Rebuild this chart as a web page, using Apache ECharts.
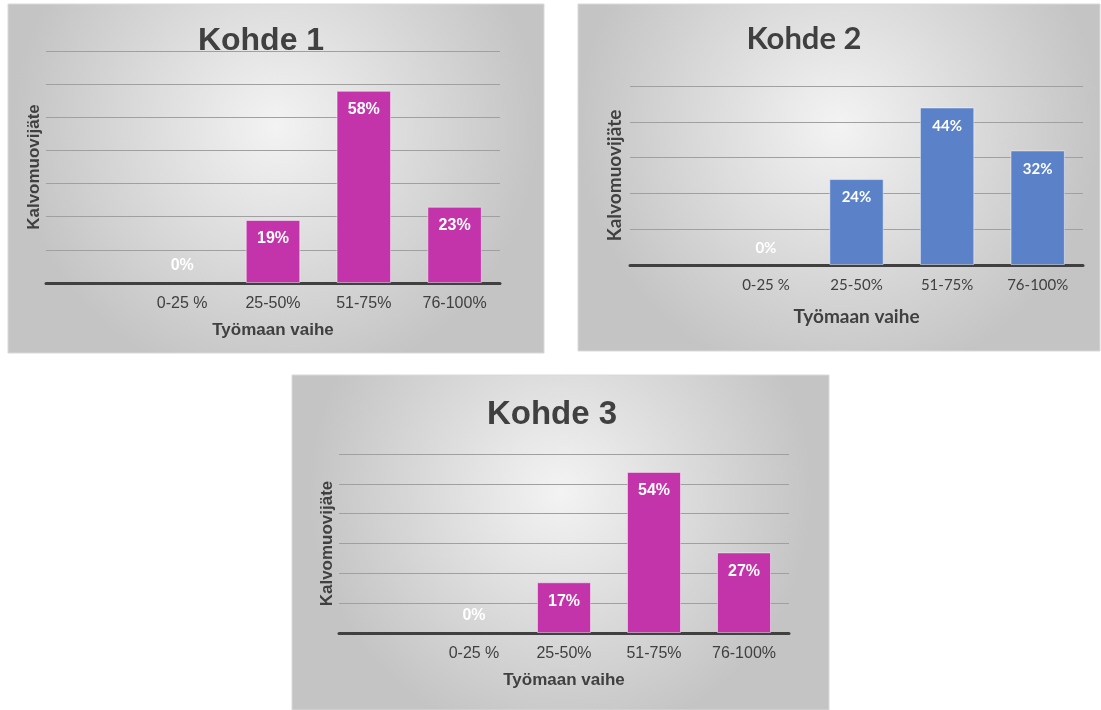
<!DOCTYPE html>
<html><head><meta charset="utf-8">
<script src="https://cdn.jsdelivr.net/npm/echarts@6/dist/echarts.min.js"></script>
<style>html,body{margin:0;padding:0;background:#fff}#c{width:1101px;height:710px}</style>
</head><body><div id="c"></div>
<script>
var categories = ['', '0-25 %', '25-50%', '51-75%', '76-100%'];
var titles = ['Kohde 1', 'Kohde 2', 'Kohde 3'];
var values1 = [null, 0, 19, 58, 23];
var values2 = [null, 0, 24, 44, 32];
var values3 = [null, 0, 17, 54, 27];
var yMax = [70, 50, 60];
var xName = 'Työmaan vaihe';
var yName = 'Kalvomuovijäte';

var chart = echarts.init(document.getElementById('c'));
var panels = [
  {x:8, y:4, w:536, h:349, grid:{left:46, top:51, width:454, height:232}, font:'Liberation Sans', color:'#c334ab', tx:261, ty:41, tsize:32, nsize:17, ngap:3, lsize:16, tick:16},
  {x:578, y:4, w:522, h:347, grid:{left:630, top:86, width:453, height:179}, font:'Lato', color:'#5b82c9', tx:804, ty:39, tsize:31, nsize:19, ngap:6, lsize:15, tick:15},
  {x:292, y:375, w:537, h:335, grid:{left:339, top:454, width:450, height:179}, font:'Liberation Sans', color:'#c334ab', tx:552, ty:415, tsize:33, nsize:17, ngap:3, lsize:16, tick:16}
];
var allValues = [values1, values2, values3];

var graphic = [], grids = [], xAxes = [], yAxes = [], series = [], title = [];
panels.forEach(function(p, i){
  graphic.push({type:'rect', z:-10, shape:{x:p.x, y:p.y, width:p.w, height:p.h},
    style:{fill:{type:'radial', x:0.5, y:0.35, r:0.75, colorStops:[{offset:0,color:'#f3f3f3'},{offset:1,color:'#c4c4c4'}]}, stroke:'#d9d9d9', lineWidth:1}});
  title.push({text:titles[i], left:p.tx, top:p.ty, padding:0, textAlign:'center', textVerticalAlign:'middle',
    textStyle:{fontFamily:p.font, fontWeight:'bold', fontSize:p.tsize, color:'#404040'}});
  grids.push(p.grid);
  xAxes.push({type:'category', gridIndex:i, data:categories,
    axisLine:{lineStyle:{color:'#404040', width:3}}, axisTick:{show:false},
    axisLabel:{fontFamily:p.font, fontSize:p.tick, color:'#404040', margin:13},
    name:xName, nameLocation:'middle', nameGap:i===1?42:39,
    nameTextStyle:{fontFamily:p.font, fontWeight:'bold', fontSize:i===1?19:17, color:'#404040'}});
  yAxes.push({type:'value', gridIndex:i, min:0, max:yMax[i], interval:10,
    axisLabel:{show:false}, axisLine:{show:false}, axisTick:{show:false},
    splitLine:{lineStyle:{color:'#a0a0a0', width:1}},
    name:yName, nameLocation:'middle', nameGap:p.ngap,
    nameTextStyle:{fontFamily:p.font, fontWeight:'bold', fontSize:p.nsize, color:'#404040'}});
  series.push({type:'bar', xAxisIndex:i, yAxisIndex:i, barCategoryGap:'40%',
    itemStyle:{color:p.color, borderColor:'rgba(255,255,255,0.45)', borderWidth:1},
    label:{show:true, position:'insideTop', distance:11, formatter:'{c}%', color:'#fff',
      fontFamily:p.font, fontWeight:'bold', fontSize:p.lsize},
    data:allValues[i].map(function(v){
      return v === 0 ? {value:v, itemStyle:{borderWidth:0}, label:{position:'top', distance:9}} : v;
    })});
});

chart.setOption({animation:false, graphic:graphic, title:title, grid:grids, xAxis:xAxes, yAxis:yAxes, series:series});
</script></body></html>
